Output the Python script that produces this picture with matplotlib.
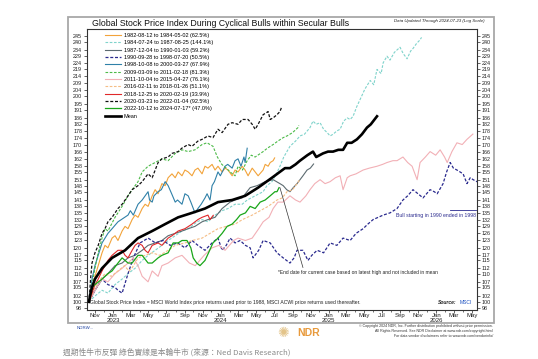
import pandas as pd
import matplotlib
matplotlib.use("Agg")
import matplotlib.pyplot as plt
import matplotlib.dates as mdates
from matplotlib import font_manager as fm
from matplotlib.patches import Rectangle
from matplotlib.lines import Line2D
from matplotlib.ticker import FixedLocator, NullLocator, FuncFormatter

# ---------------- fontes ----------------
installed = {f.name for f in fm.fontManager.ttflist}
base_font = "Liberation Sans Narrow" if "Liberation Sans Narrow" in installed else "Liberation Sans"
plt.rcParams["font.family"] = [base_font, "DejaVu Sans"]

# ---------------- dados (dias desde o início do ciclo, índice = 100 no início) ----------------
START = pd.Timestamp("2022-10-12")

d_1982 = [0,10,20,31,44,54,64,78,88,98,112,122,132,146,156,166,180,190,200,214,224,234,247,258,268,281,292,302,315,325,
          336,349,359,369,383,393,403,417,427,437,451,461,471,485,495,505,519,529,539,553,563,573,590,597,607,614,624,629]
v_1982 = [100,104,109,113,118,121,120,124,125,123,127,129,128,132,134,133,137,139,138,143,146,144,149,148,152,154,152,155,153,156,
          155,153,156,157,154,158,157,159,156,158,155,157,156,153,156,155,158,156,153,157,155,153,156,159,158,160,161,162.5]

d_1984 = [0,20,44,64,88,112,132,156,180,200,224,247,268,292,315,336,366,383,403,427,451,471,495,519,536,563,590,603,620,635,
          647,660,681,700,715,730,749,759,770,783,795,807,817,827,840,851,863,875,885,895,907,919,935,953,965,976,990,997,1010,1020,
          1035,1054,1065,1078,1090,1098,1110,1122,1127]
v_1984 = [100,102,104,103,106,108,110,112,115,117,119,121,123,125,127,128,131,132,131,134,136,137,139,139,141,143,145,148,150,154,
          158,163,169,172,175,176,180,184,182,183,179,177,175,176,178,179,184,186,185,187,193,198,205,211,208,219,216,224,229,226,
          232,236,231,227,233,235,239,242,244]

d_1987 = [0,20,44,64,88,112,132,156,180,200,224,247,268,292,315,336,359,383,403,427,451,478,495,519,546,570,597,624,647,658,
          670,681,692,705,725,739,750,761]
v_1987 = [100,104,108,110,113,114,116,117,119,121,122,123,125,126,127,128,129,131,132,133,137,140,141,142,147,148,150,151,149,148,
          146,145,147,149,153,156,157,159.2]

d_1990 = [0,20,44,64,88,98,112,132,150,173,200,225,251,275,300,325,349,369,393,417,437,451,465,478,495,512,530,546,556,575,
          590,614,637,658,681,695,705,725,742,755,773,795,817,840,861,885,905,929,945,963,980,997,1020,1044,1064,1080,1098,1115,1132,1156,
          1170,1180,1200,1212,1224,1235,1247,1268,1281,1292,1302,1315,1330]
v_1990 = [100,104,108,106,105,104,103,110,116,122,124,122,123,121,122,120,123,121,119,122,124,119,121,124,122,123,121,120,116,119,
          123,122,118,116,114,116,119,119,115,117,119,118,122,121,124,123,126,128,130,132,133,134,135,137,141,143,146,144,142,146,
          145,144,149,155,160,157,156,154,149,152,151,150,149]

d_1998 = [0,10,20,44,64,78,98,132,140,150,166,180,190,200,205,214,220,234,245,258,268,280,292,300,315,325,336,345,359,369,
          380,393,400,410,417,425,437,445,461,470,485,495,505,515,525,529,536]
v_1998 = [100,108,113,122,126,128,131,134,136,134,139,141,143,145,141,140,143,145,146,150,148,144,140,141,139,144,143,140,135,137,
          139,142,144,141,148,150,155,153,158,159,157,161,162,158,163,160,167.9]

d_2009 = [0,10,20,31,44,54,64,88,112,132,146,166,180,200,224,247,268,292,315,336,359,383,400,420,435,450,465,478,495,505,
          520,536,550,563,590,605,624,640,658,671,690,708,711]
v_2009 = [100,106,112,118,124,128,127,133,138,143,146,150,155,158,160,162,161,165,167,166,167,170,171,169,163,159,157,155,153,158,
          156,161,164,163,166,168,170,172,174,175,177,180,181.3]

d_2011 = [0,20,44,64,88,112,132,150,166,180,200,214,234,247,268,292,315,340,360,390,417,440,461,490,505,530,553,575,590,610,
          624,640,658,681,700,715,735,749,765,783,800,817,835,851,861,875,885,905,929,950,976,995,1010,1030,1044,1064,1080,1095,1112,1122,
          1140,1156,1175,1190,1205,1214,1230,1247,1265,1281,1301]
v_2011 = [100,104,108,107,110,112,114,116,113,109,107,111,109,113,114,116,117,114,113,117,120,121,119,123,124,123,124,128,131,133,
          137,140,140,143,141,140,143,146,149,151,149,150,152,153,146,152,153,154,156,157,158,159,160,161,161,163,160,158,151,160,
          163,166,164,167,163,160,166,171,170,173,176.1]

d_2016 = [0,15,31,54,75,98,120,135,145,166,190,214,240,268,292,325,350,383,410,437,465,495,520,553,580,607,637,655,671,690,700,715]
v_2016 = [100,104,107,110,109,111,113,111,112,116,117,118,117,119,121,122,123,124,126,128,129,130,132,134,136,138,141,142,145,146,148,151.1]

d_2018 = [0,10,20,31,44,54,64,78,98,112,122,132,146,156,166,180,190,200,214,234,247,268,281,302,325,349,369,383,403,410,421]
v_2018 = [100,103,106,108,111,113,115,117,119,119,117,116,119,121,122,121,119,118,121,122,121,124,125,127,128,130,132,133,134,132,133.9]

d_2020 = [0,5,10,20,31,44,54,64,78,98,112,132,146,166,180,200,214,234,247,268,281,302,315,336,349,369,383,403,420,437,
          451,471,485,505,519,539,553,563,573,590,607,614,624,637,647,652]
v_2020 = [100,108,114,118,121,126,128,131,133,137,139,143,146,148,150,154,152,160,162,163,165,166,168,170,169,172,173,175,174,179,
          177,182,183,182,185,185,182,179,182,188,190,185,186,188,190,192.5]

d_2022 = [0,10,20,44,64,78,98,112,122,132,146,166,180,200,214,234,247,268,285,302,315,332,345,353,365,376,393,405,420,437,
          451,468,485,500,512,530,546,563,580,597,614,630,637,644]
v_2022 = [100,105,106,108,110,111,114,116,115,114,114,117,117,114,114,116,117,118,122,122,123,123,120,116,114,113,115,118,122,124,
          126,129,130,132,134,135,138,137,140,141,143,145,145,147]

d_mean = [0,3,10,20,44,78,122,166,214,258,302,349,393,437,485,529,573,620,664,681,700,715,740,759,770,793,810,827,845,861,
          875,890,908,925,942,955,976]
v_mean = [100,102,105,108,112,116,119,124,127,130,133,135,137,140,141,143,147,152,157,157,159,161,164,166,163,165,166,166,167,167,
          171,171,173,176,180,182,187]

labels = [
    "1982-08-12 to 1984-05-02 (62.5%)",
    "1984-07-24 to 1987-08-25 (144.1%)",
    "1987-12-04 to 1990-01-03 (59.2%)",
    "1990-09-28 to 1998-07-20 (50.5%)",
    "1998-10-08 to 2000-03-27 (67.9%)",
    "2009-03-09 to 2011-02-18 (81.3%)",
    "2011-10-04 to 2015-04-27 (76.1%)",
    "2016-02-11 to 2018-01-26 (51.1%)",
    "2018-12-25 to 2020-02-19 (33.9%)",
    "2020-03-23 to 2022-01-04 (92.5%)",
    "2022-10-12 to 2024-07-17* (47.0%)",
    "Mean",
]

y_ticks = [98,100,102,105,107,110,112,115,117,120,123,126,129,132,135,138,141,145,148,151,
           155,158,162,166,170,174,178,182,186,191,195,200,204,209,214,219,224,229,234,240,245]

# estilo de cada série: (dias, valores, cor, estilo, espessura)
DASH = (0, (2.4, 1.4))
series = [
    (d_1982, v_1982, "#f2a33a", "-", 0.8),
    (d_1984, v_1984, "#7fd3cb", DASH, 0.8),
    (d_1987, v_1987, "#5c6a70", "-", 0.8),
    (d_1990, v_1990, "#2a2a8e", DASH, 0.9),
    (d_1998, v_1998, "#2f80a8", "-", 0.8),
    (d_2009, v_2009, "#4cba48", DASH, 0.8),
    (d_2011, v_2011, "#f2b0b6", "-", 0.8),
    (d_2016, v_2016, "#f5bd85", DASH, 0.8),
    (d_2018, v_2018, "#e0282a", "-", 0.8),
    (d_2020, v_2020, "#111111", DASH, 0.9),
    (d_2022, v_2022, "#19a619", "-", 0.9),
    (d_mean, v_mean, "#000000", "-", 1.9),
]


def to_dates(days):
    return START + pd.to_timedelta(days, unit="D")


# ---------------- figura ----------------
W, H = 538, 359
fig = plt.figure(figsize=(W / 100, H / 100), dpi=100)
fig.patch.set_facecolor("white")

# moldura externa
fig.patches.append(Rectangle((68 / W, 1 - 323 / H), (494 - 68) / W, (323 - 17) / H,
                             transform=fig.transFigure, fill=False, edgecolor="#a8a8a8", lw=1.3))

ax = fig.add_axes([87 / W, 1 - 310 / H, (477 - 87) / W, (310 - 29) / H])

handles = []
for (dd, vv, col, ls, lw), lab in zip(series, labels):
    ax.plot(to_dates(dd), vv, color=col, linestyle=ls, lw=lw, zorder=3 if lab == "Mean" else 2)
    handles.append(Line2D([], [], color=col, linestyle=ls, lw=lw))

ax.set_yscale("log")
ax.set_ylim(97.3, 251)
ax.set_xlim(START - pd.Timedelta(days=7), START + pd.Timedelta(days=1315))
ax.yaxis.set_major_locator(FixedLocator(y_ticks))
ax.yaxis.set_major_formatter(FuncFormatter(lambda v, p: f"{v:.0f}"))
ax.yaxis.set_minor_locator(NullLocator())

ax.xaxis.set_major_locator(mdates.MonthLocator(bymonth=[1, 3, 5, 7, 9, 11]))
ax.xaxis.set_minor_locator(mdates.MonthLocator())


def fmt_month(x, pos):
    d = mdates.num2date(x)
    return d.strftime("%b") + (f"\n{d.year}" if d.month == 1 else "")


ax.xaxis.set_major_formatter(FuncFormatter(fmt_month))
ax.tick_params(axis="y", which="both", left=True, right=True, labelleft=True, labelright=True,
               labelsize=3.9, length=2, width=0.5, pad=1.5, colors="#222222")
ax.tick_params(axis="x", which="major", labelsize=4.3, length=2, width=0.5, pad=0.5, colors="#222222")
ax.tick_params(axis="x", which="minor", length=1.3, width=0.4)
for t in ax.get_xticklabels():
    t.set_linespacing(0.85)
for s in ax.spines.values():
    s.set_linewidth(0.8)
    s.set_color("#333333")

leg = ax.legend(handles, labels, loc="upper left", bbox_to_anchor=(0.035, 1.0), frameon=False,
                fontsize=4.0, handlelength=2.9, handletextpad=0.6, labelspacing=0.42, borderaxespad=0.3)

# anotações
ax.plot(to_dates([647, 725]), [147, 112.3], color="#333333", lw=0.5)
ax.text(to_dates([641])[0], 110.6, "*End date for current case based on latest high and not included in mean",
        fontsize=3.5, va="center", ha="left", color="#222222")

ax.plot(to_dates([1224, 1313]), [136.4, 136.4], color="#2a2a8e", lw=0.6)
ax.text(to_dates([1313])[0], 134.0, "Bull starting in 1990 ended in 1998", fontsize=3.7,
        va="center", ha="right", color="#2a2a8e")

ax.text(0.008, 0.02, "Global Stock Price Index = MSCI World Index price returns used prior to 1988, "
        "MSCI ACWI price returns used thereafter.", transform=ax.transAxes, fontsize=3.6, color="#222222")
ax.text(0.9, 0.022, "Source:", transform=ax.transAxes, fontsize=3.6, fontweight="bold",
        style="italic", color="#222222")
ax.text(0.955, 0.022, "MSCI", transform=ax.transAxes, fontsize=3.6, color="#1a4fc0")

# textos externos
fig.text(92 / W, 1 - 23.5 / H, "Global Stock Price Index During Cyclical Bulls within Secular Bulls",
         fontsize=6.35, va="center", ha="left", color="#111111")
fig.text(485 / W, 1 - 21 / H, "Data Updated Through 2024-07-23 (Log Scale)", fontsize=3.2,
         style="italic", va="center", ha="right", color="#222222")

fig.text(77 / W, 1 - 328 / H, "NDRW...", fontsize=3.2, color="#1a3fa0", va="center")
fig.text(283 / W, 1 - 333 / H, "\u273a", fontsize=10, color="#e3c48a", va="center", ha="center",
         family="DejaVu Sans")
fig.text(297 / W, 1 - 333 / H, "NDR", fontsize=7.5, fontweight="bold", color="#e89a3c", va="center")
fig.text(493 / W, 1 - 326 / H, "\u00a9 Copyright 2024 NDR, Inc. Further distribution prohibited without prior permission.",
         fontsize=2.6, ha="right", va="center", color="#333333")
fig.text(493 / W, 1 - 331 / H, "All Rights Reserved. See NDR Disclaimer at www.ndr.com/copyright.html",
         fontsize=2.6, ha="right", va="center", color="#333333")
fig.text(493 / W, 1 - 336 / H, "For data vendor disclaimers refer to www.ndr.com/vendorinfo/",
         fontsize=2.6, ha="right", va="center", color="#333333")

fig.text(63 / W, 1 - 352 / H, "週期性牛市反彈 綠色實線是本輪牛市 (來源：Ned Davis Research)",
         fontsize=5.6, color="#8a8a8a", va="center", ha="left",
         family=["Noto Sans CJK TC", "DejaVu Sans"])

fig.savefig("out.png", dpi=100, facecolor="white")
